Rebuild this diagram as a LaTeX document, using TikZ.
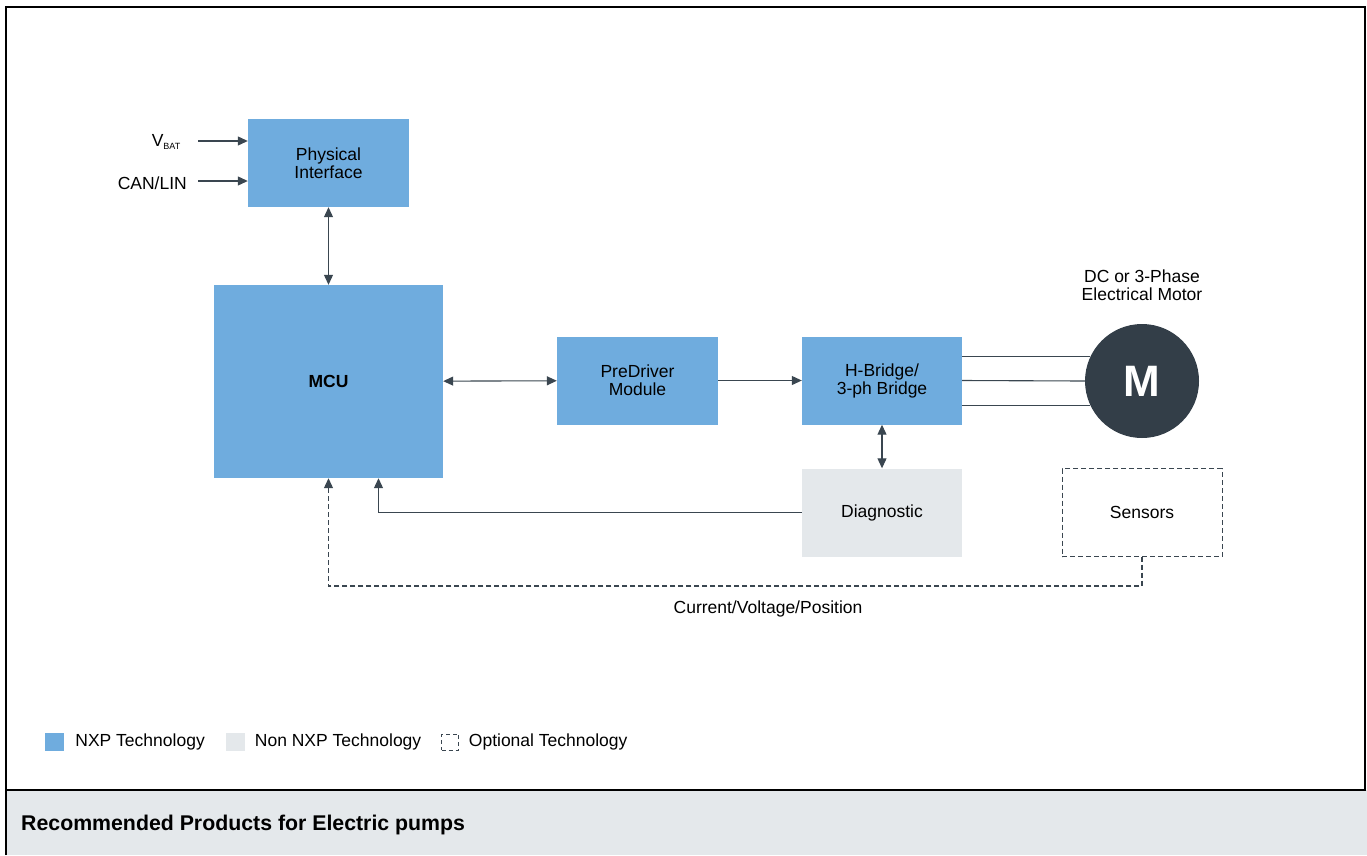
\documentclass[tikz,border=0pt]{standalone}
\usepackage{fontspec}
\setmainfont{Liberation Sans}
\usetikzlibrary{arrows.meta, positioning}

\definecolor{nxpblue}{RGB}{111,172,222}
\definecolor{nonnxp}{RGB}{228,232,235}
\definecolor{wire}{RGB}{58,70,80}
\definecolor{motorgray}{RGB}{51,62,72}

\tikzset{
  blockbox/.style = {fill=nxpblue, minimum width=161pt, minimum height=88pt,
    align=center, inner sep=0pt, font=\fontsize{17.5}{18}\selectfont},
  otherbox/.style = {blockbox, fill=nonnxp},
  optbox/.style = {blockbox, fill=none, draw=wire, dash pattern=on 5pt off 3pt},
  link/.style = {draw=wire, line width=1.1pt, -{Triangle[length=10pt,width=9pt]}},
  twoway/.style = {link, {Triangle[length=10pt,width=9pt]}-{Triangle[length=10pt,width=9pt]}},
  lbl/.style = {font=\fontsize{17.5}{18}\selectfont, inner sep=0pt},
  keybox/.style = {minimum width=19pt, minimum height=18pt, inner sep=0pt}
}

\begin{document}
\begin{tikzpicture}[x=1pt, y=-1pt]
\useasboundingbox (0,0) rectangle (1367,855);
% frame and footer band
\fill[nonnxp] (6,790) rectangle (1367,855);
\draw[line width=2pt] (6,855) -- (6,7) -- (1365,7) -- (1365,790) -- (6,790);

% blocks
\node[blockbox] (phy) at (328.5,163) {Physical\\Interface};
\node[blockbox, minimum width=229pt, minimum height=193pt, font=\fontsize{17.5}{18}\selectfont\bfseries] (mcu) at (328.5,381.5) {MCU};
\node[blockbox] (pre) at (637.5,380.5) {PreDriver\\Module};
\node[blockbox, minimum width=160pt] (hb) at (882,380.5) {H-Bridge/\\3-ph Bridge};
\node[otherbox, minimum width=160pt] (diag) at (882,512.5) {Diagnostic};
\node[optbox, minimum width=160pt] (sens) at (1142,512.5) {Sensors};
\node[circle, fill=motorgray, minimum size=114pt, inner sep=0pt, text=white,
  font=\fontsize{44}{44}\selectfont\bfseries] (mot) at (1142,381) {M};
\node[lbl, align=center, above=23pt of mot] (motlbl) {DC or 3-Phase\\Electrical Motor};

% inputs
\node[lbl, anchor=east] (vbat) at (181,142) {V\textsubscript{\fontsize{9}{9}\selectfont BAT}};
\node[lbl, anchor=east] (bus) at (187,183) {CAN/LIN};
\coordinate (vbatin) at (198,141);
\coordinate (busin) at (198,181);
\draw[link] (vbatin) -- (vbatin -| phy.west);
\draw[link] (busin) -- (busin -| phy.west);

% connections
\draw[twoway] (phy) -- (mcu);
\draw[twoway] (mcu) -- (pre);
\draw[link] (pre) -- (hb);
\draw[twoway] (hb) -- (diag);
\draw[draw=wire, line width=1.1pt] (hb.east |- mot.155) -- (mot.155);
\draw[draw=wire, line width=1.1pt] (hb.east) -- (mot.west);
\draw[draw=wire, line width=1.1pt] (hb.east |- mot.205) -- (mot.205);
\draw[link] (diag.west) -| ([xshift=50pt]mcu.south);
\coordinate (fbk) at (768,586);
\draw[link, dash pattern=on 5pt off 3pt] (sens.south) |- (fbk) -| (mcu.south);
\node[lbl, below=15pt of fbk] (fbklbl) {Current/Voltage/Position};

% legend
\node[keybox, fill=nxpblue] (k1) at (54.5,742) {};
\node[lbl, right=11pt of k1] (k1t) {NXP Technology};
\node[keybox, fill=nonnxp] (k2) at (235,742) {};
\node[lbl, right=10pt of k2] (k2t) {Non NXP Technology};
\node[keybox, draw=wire, dash pattern=on 4pt off 3pt, minimum width=17pt, minimum height=16pt] (k3) at (450,742) {};
\node[lbl, right=10pt of k3] (k3t) {Optional Technology};

\node[lbl, anchor=west, font=\fontsize{21.3}{22}\selectfont\bfseries] (title) at (21,825) {Recommended Products for Electric pumps};
\end{tikzpicture}
\end{document}
